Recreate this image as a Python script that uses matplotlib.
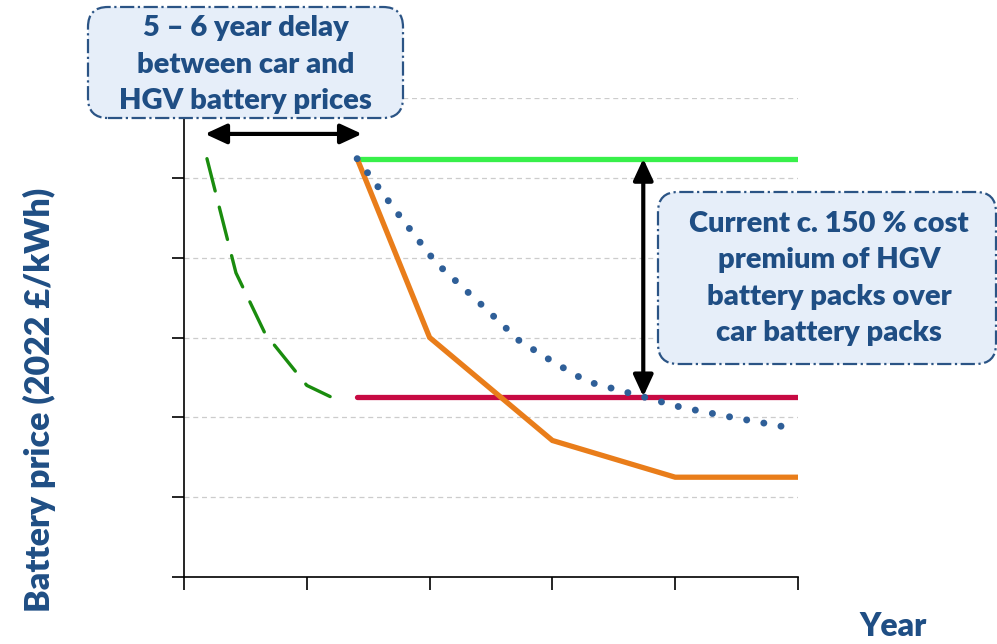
import matplotlib
matplotlib.use("Agg")
import matplotlib.pyplot as plt
from matplotlib.patches import FancyBboxPatch

# curves (x = year index, y = price in grid units)
car_x = [0.187, 0.423, 0.66, 1.0, 1.19]
car_y = [5.24, 3.81, 3.05, 2.40, 2.26]

hgv_now_x = [1.41, 5.0]
hgv_now_y = [5.24, 5.24]

car_now_x = [1.41, 5.0]
car_now_y = [2.26, 2.26]

hgv_fast_x = [1.41, 2.0, 3.0, 4.0, 5.0]
hgv_fast_y = [5.24, 3.0, 1.71, 1.25, 1.25]

hgv_slow_x = [1.41, 1.73, 2.05, 2.43, 2.73, 3.0, 3.28, 3.66, 4.05, 4.43, 5.0]
hgv_slow_y = [5.24, 4.575, 3.94, 3.40, 2.96, 2.70, 2.45, 2.29, 2.125, 2.01, 1.85]

delay_x = [0.171, 1.45]
delay_y = 5.55
premium_x = 3.74

box1_text = "5 \u2013 6 year delay\nbetween car and\nHGV battery prices"
box2_text = "Current c. 150 % cost\npremium of HGV\nbattery packs over\ncar battery packs"

txt_col = "#1f4e84"
font = ["Lato", "DejaVu Sans"]

fig = plt.figure(figsize=(9.97, 6.44), dpi=100)
ax = fig.add_axes([184/997, 1-577/644, (798-184)/997, (577-98)/644])

ax.set_xlim(0, 5)
ax.set_ylim(0, 6)
ax.set_xticks(range(6))
ax.set_yticks(range(7))
ax.set_xticklabels([])
ax.set_yticklabels([])
ax.tick_params(length=9, width=1.2, direction="out")
for s in ["top", "right"]:
    ax.spines[s].set_visible(False)
for s in ["left", "bottom"]:
    ax.spines[s].set_linewidth(1.2)
ax.yaxis.grid(True, linestyle=(0, (4, 3)), color="#cccccc", lw=0.9)
ax.set_axisbelow(True)

ax.plot(car_x, car_y, color="#1a8c0e", lw=2.4, linestyle=(0, (10, 5)),
        dash_capstyle="round", solid_capstyle="round")
ax.plot(hgv_now_x, hgv_now_y, color="#38f04a", lw=3.8, solid_capstyle="round")
ax.plot(car_now_x, car_now_y, color="#c70a43", lw=3.8, solid_capstyle="round")
ax.plot(hgv_fast_x, hgv_fast_y, color="#e97d1a", lw=3.8, solid_capstyle="round",
        solid_joinstyle="miter")
ax.plot(hgv_slow_x, hgv_slow_y, color="#2f5f98", lw=5, linestyle=(0, (0.01, 2.5)),
        dash_capstyle="round")

arrow = dict(arrowstyle="<|-|>,head_length=1.3,head_width=0.6", lw=3,
             color="black", shrinkA=0, shrinkB=0)
ax.annotate("", xy=(delay_x[1], delay_y), xytext=(delay_x[0], delay_y),
            arrowprops=arrow, annotation_clip=False)
ax.annotate("", xy=(premium_x, hgv_now_y[0]), xytext=(premium_x, car_now_y[0]),
            arrowprops=arrow)

# callout boxes, in inches from bottom-left
for (x0, y0, w, h) in [(0.88, 5.26, 3.15, 1.11), (6.58, 2.80, 3.38, 1.72)]:
    box = FancyBboxPatch((x0, y0), w, h, boxstyle="round,pad=0,rounding_size=0.2",
                         transform=fig.dpi_scale_trans, facecolor="#e6eef9",
                         edgecolor="#2b5485", lw=1.6, linestyle="-.", zorder=5)
    fig.add_artist(box)

fig.text(0.2462, 0.8998, box1_text, ha="center", va="center", fontsize=21,
         fontweight="heavy", color=txt_col, family=font, linespacing=1.5, zorder=6)
fig.text(0.8315, 0.5675, box2_text, ha="center", va="center", fontsize=21,
         fontweight="heavy", color=txt_col, family=font, linespacing=1.5, zorder=6)

fig.text(0.040, 0.379, "Battery price (2022 \u00a3/kWh)", rotation=90, ha="center",
         va="center", fontsize=24.5, fontweight="heavy", color=txt_col, family=font)
fig.text(0.8957, 0.0264, "Year", ha="center", va="center", fontsize=23,
         fontweight="heavy", color=txt_col, family=font)

fig.savefig("out.png", dpi=100)
